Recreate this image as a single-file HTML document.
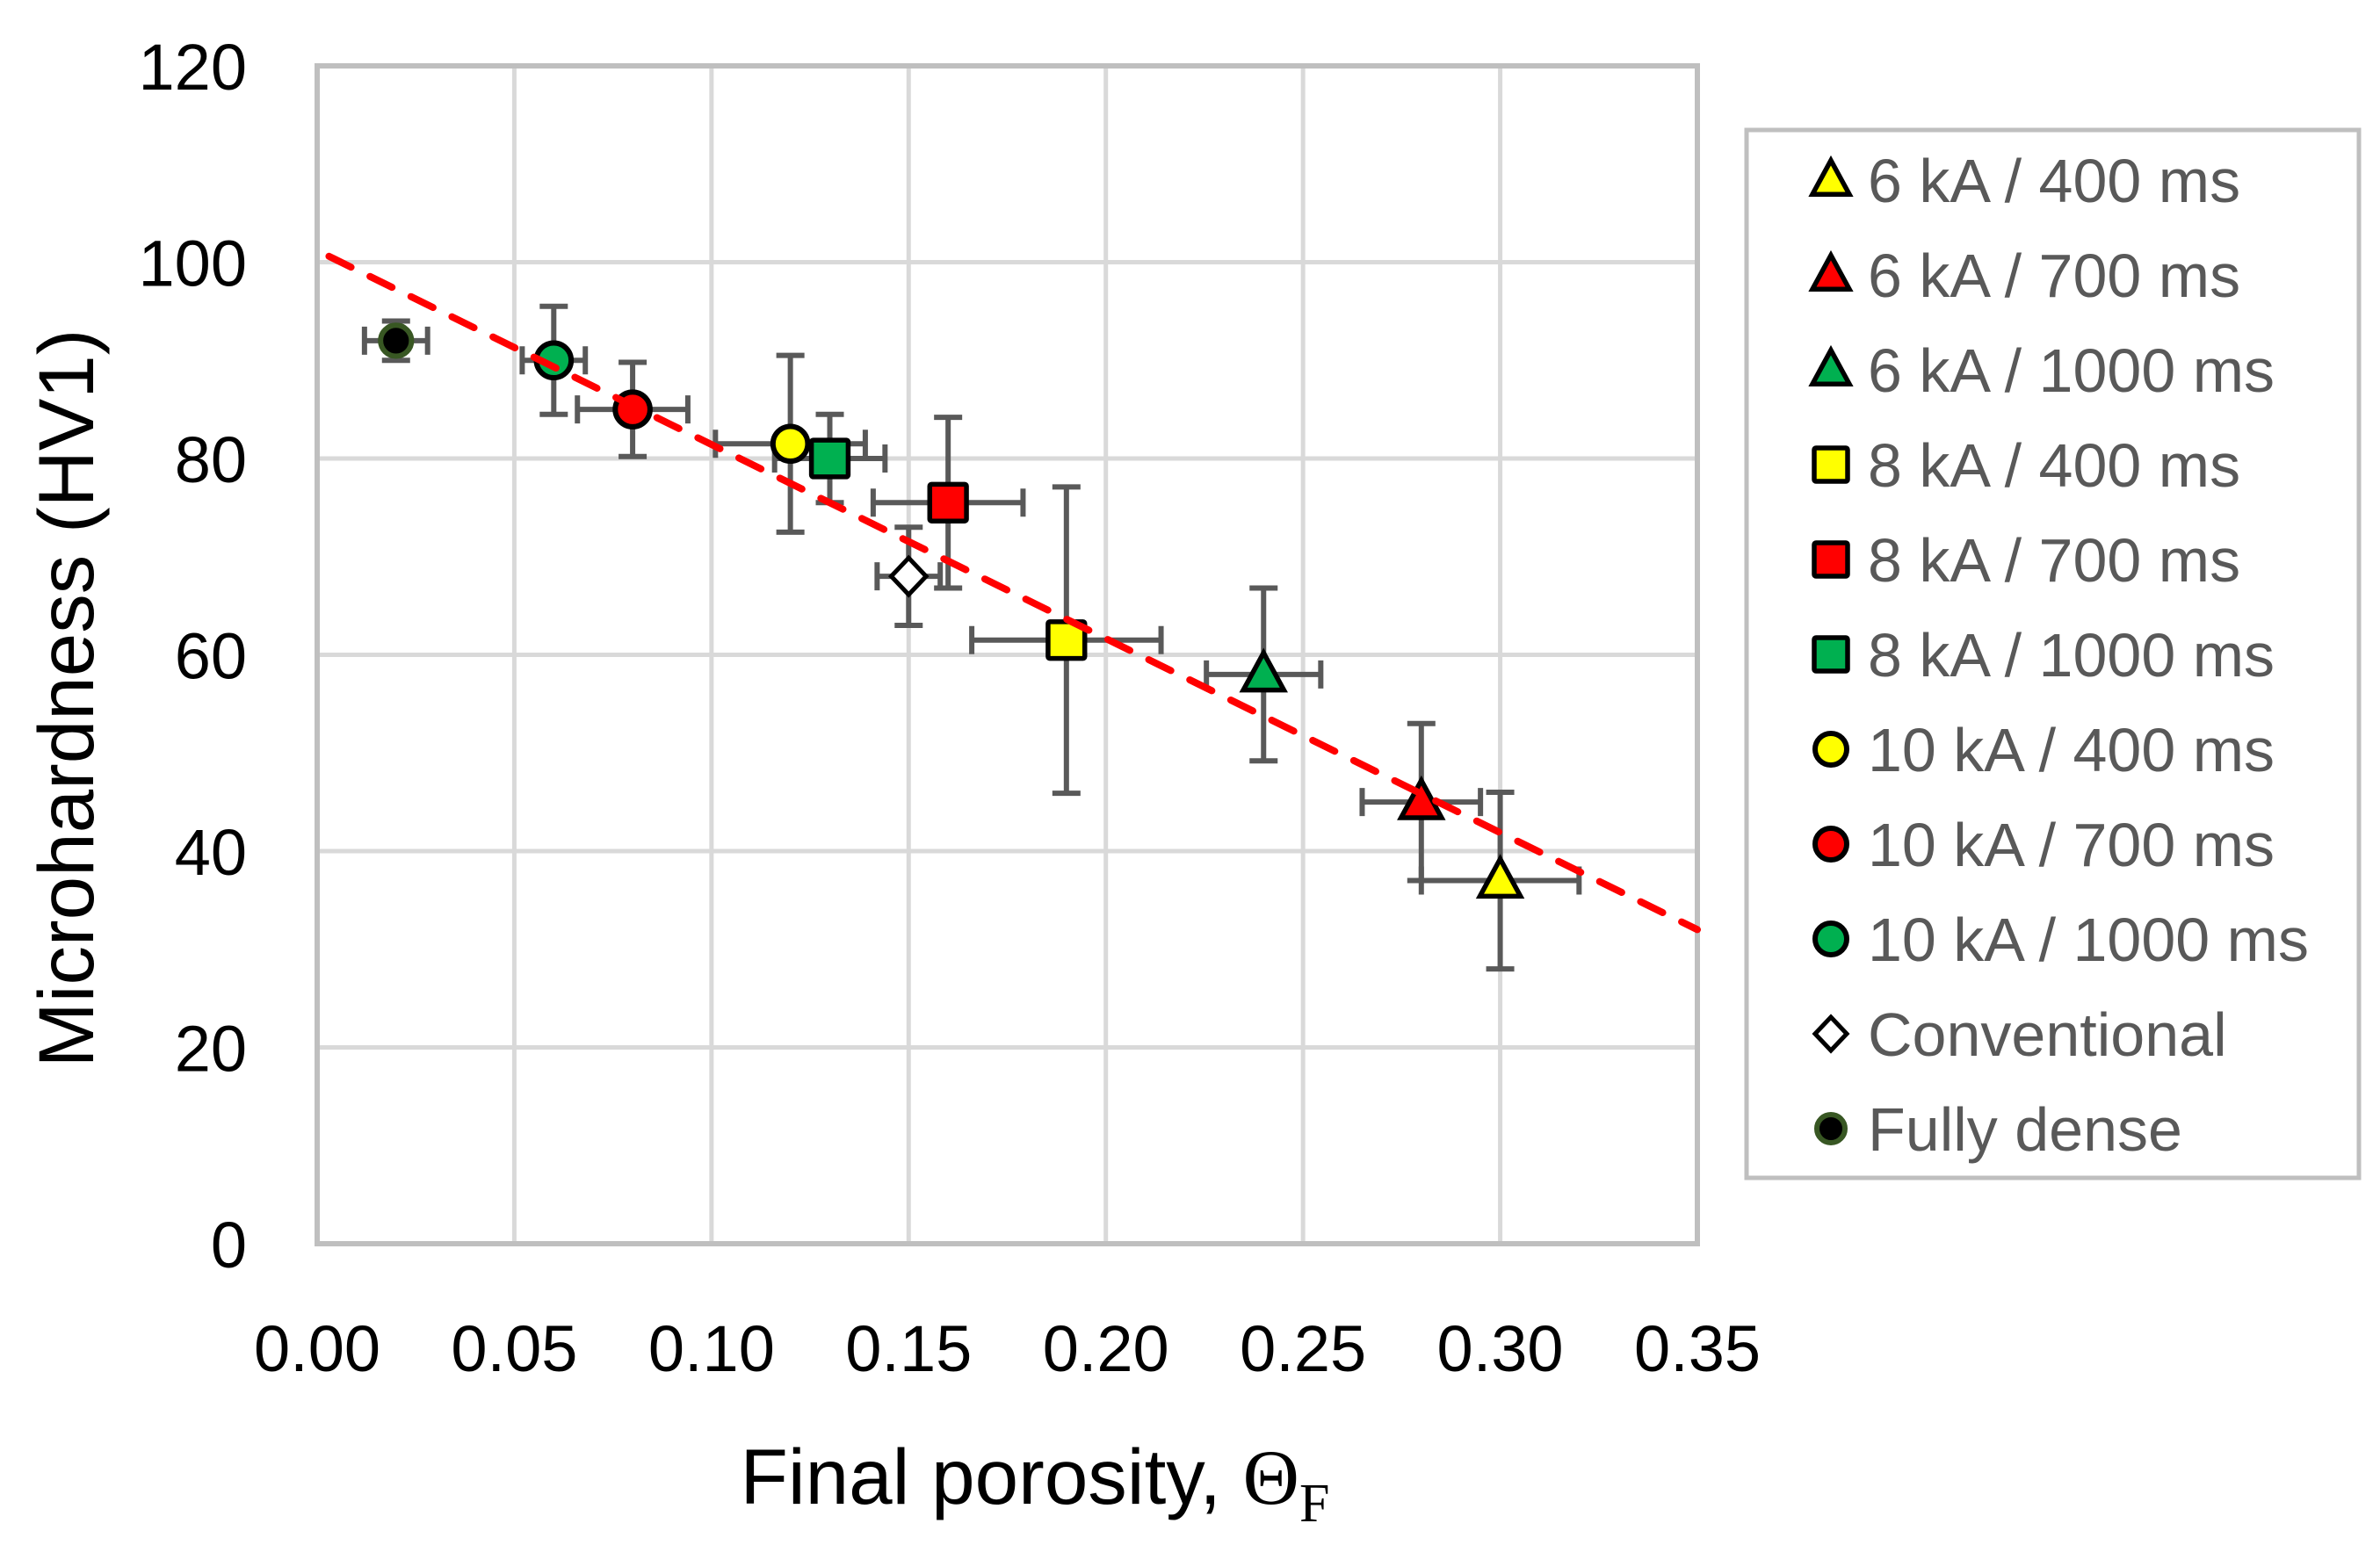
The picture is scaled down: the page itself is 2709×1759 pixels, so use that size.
<!DOCTYPE html>
<html><head><meta charset="utf-8"><style>
html,body{margin:0;padding:0;background:#fff;}
svg{display:block;font-family:"Liberation Sans",sans-serif;}
</style></head><body>
<svg id="chart" width="2709" height="1759" viewBox="0 0 2709 1759" xmlns="http://www.w3.org/2000/svg">
<rect width="2709" height="1759" fill="#fff"/>
<g id="grid"></g>
<g id="axes"></g>
<g id="bars"></g>
<g id="marks"></g>
<g id="trend"></g>
<text transform="translate(106,795) rotate(-90)" text-anchor="middle" font-size="89" fill="#000">Microhardness (HV1)</text>
<text x="1178" y="1712" text-anchor="middle" font-size="89" fill="#000">Final porosity, <tspan font-family="Liberation Serif, serif">Θ</tspan><tspan font-family="Liberation Serif, serif" font-size="62" dy="20">F</tspan></text>
<rect x="1988" y="148" width="697" height="1193" fill="#fff" stroke="#bfbfbf" stroke-width="5"/>
<g id="legend"></g>
</svg>
<script>
const xTicks=[0,0.05,0.10,0.15,0.20,0.25,0.30,0.35];
const xTickLabels=["0.00","0.05","0.10","0.15","0.20","0.25","0.30","0.35"];
const yTicks=[0,20,40,60,80,100,120];
const seriesNames=["6 kA / 400 ms","6 kA / 700 ms","6 kA / 1000 ms","8 kA / 400 ms","8 kA / 700 ms","8 kA / 1000 ms","10 kA / 400 ms","10 kA / 700 ms","10 kA / 1000 ms","Conventional","Fully dense"];
const seriesShapes=["tri","tri","tri","sq","sq","sq","circ","circ","circ","dia","dense"];
const seriesColors=["#ffff00","#ff0000","#00b050","#ffff00","#ff0000","#00b050","#ffff00","#ff0000","#00b050","#ffffff","#000000"];
const porosity=[0.30,0.28,0.24,0.19,0.16,0.13,0.12,0.08,0.06,0.15,0.02];
const hardness=[37,45,58,61.5,75.5,80,81.5,85,90,68,92];
const porosityErr=[0.020,0.015,0.0145,0.024,0.019,0.014,0.019,0.014,0.008,0.008,0.008];
const hardnessErr=[9,8,8.8,15.6,8.7,4.5,9,4.8,5.5,5,2];
const trendX=[0.003,0.35];
const trendY=[100.6,32];

const NS="http://www.w3.org/2000/svg";
const X0=361,X1=1932,Y0=1416,Y1=75;
const X=v=>X0+v/0.35*(X1-X0);
const Y=v=>Y0-v/120*(Y0-Y1);
function mk(tag,attrs,parent){const e=document.createElementNS(NS,tag);for(const k in attrs)e.setAttribute(k,attrs[k]);parent.appendChild(e);return e;}
const grid=document.getElementById('grid'),axes=document.getElementById('axes'),bars=document.getElementById('bars'),marks=document.getElementById('marks'),trend=document.getElementById('trend'),legend=document.getElementById('legend');

xTicks.forEach((t,i)=>{
  if(i>0&&i<xTicks.length-1){const l=mk('line',{x1:X(t),x2:X(t),y1:Y1,y2:Y0,stroke:'#d9d9d9','stroke-width':5},grid);
  
  }
  const tx=mk('text',{x:X(t),y:1561,'text-anchor':'middle','font-size':74,fill:'#000'},axes);tx.textContent=xTickLabels[i];
  
  
});
yTicks.forEach(t=>{
  if(t>0&&t<120){const l=mk('line',{x1:X0,x2:X1,y1:Y(t),y2:Y(t),stroke:'#d9d9d9','stroke-width':5},grid);
  
  }
  const tx=mk('text',{x:281,y:Y(t)+27,'text-anchor':'end','font-size':74,fill:'#000'},axes);tx.textContent=t;
  
  
});
const frame=mk('rect',{x:X0,y:Y1,width:X1-X0,height:Y0-Y1,fill:'none',stroke:'#bfbfbf','stroke-width':6},axes);



function marker(shape,color,cx,cy,parent,s){
  let e;
  if(shape==='tri'){const h=36*s,w=21*s;e=mk('polygon',{points:`${cx},${cy-h*0.62} ${cx+w},${cy+h*0.45} ${cx-w},${cy+h*0.45}`,fill:color,stroke:'#000','stroke-width':5.5,'stroke-linejoin':'miter'},parent);}
  else if(shape==='sq'){const a=19*s;e=mk('rect',{x:cx-a,y:cy-a,width:2*a,height:2*a,fill:color,stroke:'#000','stroke-width':5.5,rx:2},parent);}
  else if(shape==='circ'){e=mk('circle',{cx:cx,cy:cy,r:18*s,fill:color,stroke:'#000','stroke-width':6},parent);}
  else if(shape==='dia'){const a=19*s;e=mk('polygon',{points:`${cx},${cy-a} ${cx+a*0.95},${cy} ${cx},${cy+a} ${cx-a*0.95},${cy}`,fill:'#fff',stroke:'#000','stroke-width':5},parent);}
  else {e=mk('circle',{cx:cx,cy:cy,r:16*s,fill:'#000',stroke:'#385723','stroke-width':6},parent);}
  return e;
}

porosity.forEach((p,i)=>{
  const cx=X(p),cy=Y(hardness[i]);
  const xl=X(p-porosityErr[i]),xr=X(p+porosityErr[i]),yt=Y(hardness[i]+hardnessErr[i]),yb=Y(hardness[i]-hardnessErr[i]);
  const g=mk('g',{stroke:'#595959','stroke-width':6,fill:'none'},bars);
  
  
  mk('line',{x1:xl,x2:xr,y1:cy,y2:cy},g);
  mk('line',{x1:xl,x2:xl,y1:cy-16,y2:cy+16},g);
  mk('line',{x1:xr,x2:xr,y1:cy-16,y2:cy+16},g);
  mk('line',{x1:cx,x2:cx,y1:yt,y2:yb},g);
  mk('line',{x1:cx-16,x2:cx+16,y1:yt,y2:yt},g);
  mk('line',{x1:cx-16,x2:cx+16,y1:yb,y2:yb},g);
  const m=marker(seriesShapes[i],seriesColors[i],cx,cy,marks,1.1);
  
  
});

const tl=mk('line',{x1:X(trendX[0]),y1:Y(trendY[0]),x2:X(trendX[1]),y2:Y(trendY[1]),stroke:'#ff0000','stroke-width':8,'stroke-dasharray':'28 24','stroke-linecap':'round'},trend);



seriesNames.forEach((n,i)=>{
  const cy=205+i*108;
  const g=mk('g',{},legend);
  
  
  marker(seriesShapes[i],seriesColors[i],2084,cy,g,1.0);
  const t=mk('text',{x:2126,y:cy+25,'font-size':70,fill:'#595959'},g);t.textContent=n;
});
</script>
</body></html>
